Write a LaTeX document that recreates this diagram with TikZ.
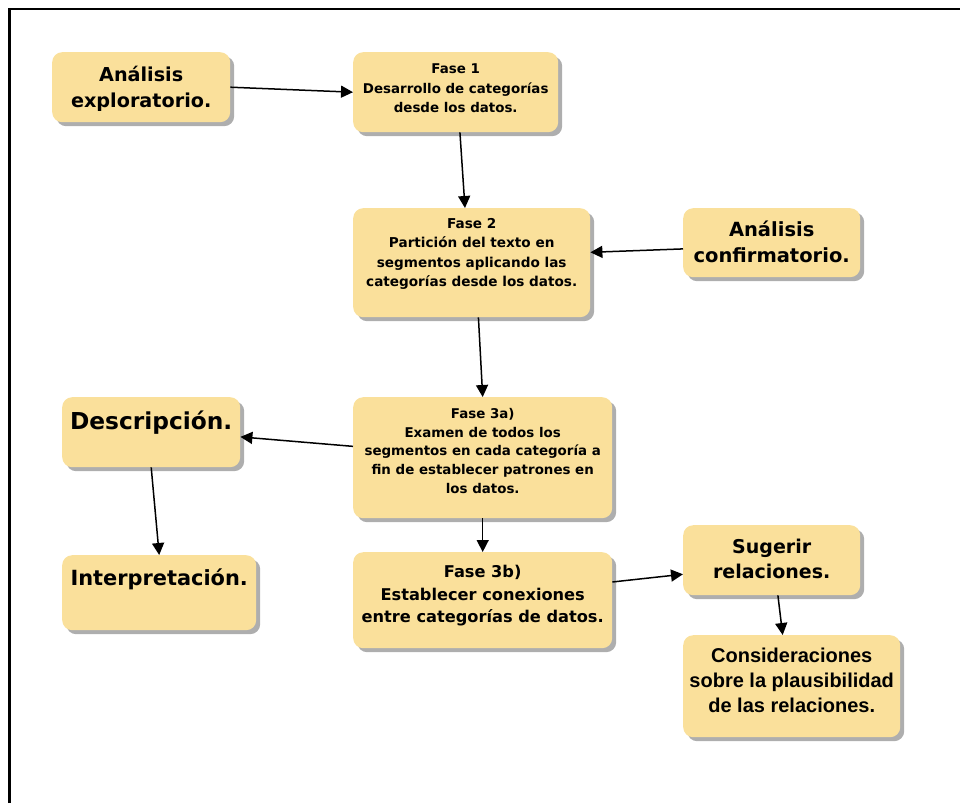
\documentclass[tikz,border=0pt]{standalone}
\usepackage{fontspec}
\setmainfont{Liberation Sans}
\newfontfamily\widefont{DejaVu Sans}
\usetikzlibrary{arrows.meta,shadows}
\definecolor{boxfill}{RGB}{250,224,155}
\tikzstyle{box}=[rounded corners=10pt,fill=boxfill,inner xsep=4pt,inner ysep=10pt,anchor=north west,
  drop shadow={shadow xshift=4pt,shadow yshift=-4pt,fill=black!45,opacity=0.7}]
\tikzstyle{edge} = [draw,line width=1.5pt,-{Triangle[length=12pt,width=12pt]}]
\newcommand{\boxtext}[4][0]{\parbox[t][#3pt][t]{#2pt}{\centering\bfseries\vspace*{#1pt}#4}}
\newcommand{\wf}[2]{\widefont\fontsize{#1}{#2}\selectfont}

\begin{document}
\begin{tikzpicture}[x=1pt,y=-1pt]
				\useasboundingbox (0,0) rectangle (960,803);
				\draw[line width=2.5pt] (9.5,803) -- (9.5,9) -- (960,9);

				% First we draw the boxes
				\node[box,font=\wf{19.2}{26}] (explo) at (52,52)
					{\boxtext[4]{170}{50}{Análisis\\exploratorio.}};
				\node[box,font=\wf{13.4}{19.5}] (f1) at (353,52)
					{\boxtext[2]{197}{60}{Fase 1\\Desarrollo de categorías\\desde los datos.}};
				\node[box,font=\wf{13.6}{19.5}] (f2) at (353,208)
					{\boxtext{229}{89}{Fase 2\\Partición del texto en\\segmentos aplicando las\\categorías desde los datos.}};
				\node[box,font=\wf{19.5}{26}] (confir) at (683,208)
					{\boxtext[3]{169}{49}{Análisis\\confirmatorio.}};
				\node[box,font=\wf{23.3}{28}] (descr) at (62,397)
					{\boxtext[4]{170}{50}{Descripción.}};
				\node[box,font=\wf{13.4}{18.7}] (f3a) at (353,397)
					{\boxtext[1]{251}{101}{Fase 3a)\\Examen de todos los\\segmentos en cada categoría a\\fin de establecer patrones en\\los datos.}};
				\node[box,font=\wf{20.9}{26}] (interp) at (62,555)
					{\boxtext[4]{186}{55}{Interpretación.}};
				\node[box,font=\wf{16.2}{22.5}] (f3b) at (353,552)
					{\boxtext[3]{251}{76}{Fase 3b)\\Establecer conexiones\\entre categorías de datos.}};
				\node[box,font=\wf{19}{25}] (suger) at (683,525)
					{\boxtext[4]{169}{50}{Sugerir\\relaciones.}};
				\node[box,font=\fontsize{20}{25}\selectfont] (consid) at (683,635)
					{\boxtext[3]{209}{82}{Consideraciones\\sobre la plausibilidad\\de las relaciones.}};

				% Connect boxes with arrows
				\foreach \source/ \dest in {explo.east/f1.west, f1.-84/f2.97, confir.184/f2.5,
										f2.-83/f3a.north, f3a.175/descr.-3, descr.south/interp.north,
										f3a.south/f3b.north, f3b.8/suger.189, suger.-80/consid.100}
				\path[edge] (\source) -- (\dest);

			\end{tikzpicture}
\end{document}
